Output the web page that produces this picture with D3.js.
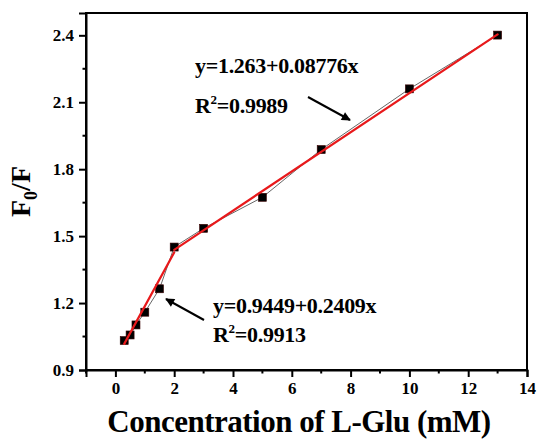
<!DOCTYPE html>
<html>
<head>
<meta charset="utf-8">
<script src="https://cdn.jsdelivr.net/npm/d3@7"></script>
<style>
  html, body { margin: 0; padding: 0; background: #fff; }
  svg { display: block; }
  text { font-family: "Times New Roman", "Liberation Serif", serif; font-weight: bold; fill: #000; }
</style>
</head>
<body>
<svg id="chart" width="537" height="443"></svg>
<script>
// L-Glu concentration (mM) and fluorescence ratio F0/F
const concentration = [0.3, 0.5, 0.7, 1.0, 1.5, 2, 3, 5, 7, 10, 13];
const ratio = [1.032, 1.057, 1.102, 1.159, 1.264, 1.451, 1.535, 1.674, 1.888, 2.160, 2.401];

// Linear fits for the two concentration ranges
const fitIntercepts = [0.9449, 1.263];
const fitSlopes = [0.2409, 0.08776];
const fitRanges = [[0.3, 2], [2, 13]];
const fitEquations = ["y=0.9449+0.2409x", "y=1.263+0.08776x"];
const fitR2 = ["0.9913", "0.9989"];

const xTicks = [0, 2, 4, 6, 8, 10, 12, 14];
const yTicks = [0.9, 1.2, 1.5, 1.8, 2.1, 2.4];

const svg = d3.select("#chart");
const plotL = 86, plotR = 527, plotT = 13, plotB = 370;

const x = d3.scaleLinear().domain([-1, 14]).range([plotL, plotR]);
const y = d3.scaleLinear().domain([0.9, 2.5]).range([plotB, plotT]);

// Frame
svg.append("rect")
  .attr("x", plotL).attr("y", plotT)
  .attr("width", plotR - plotL).attr("height", plotB - plotT)
  .attr("fill", "none").attr("stroke", "#000").attr("stroke-width", 2);

// Minor ticks
const xMinor = d3.range(-1, 14, 2);
const yMinor = d3.range(1.05, 2.5, 0.3);
svg.append("g").selectAll("line").data(xMinor).join("line")
  .attr("x1", d => x(d)).attr("x2", d => x(d))
  .attr("y1", plotB).attr("y2", plotB + 3.5)
  .attr("stroke", "#000").attr("stroke-width", 2);
svg.append("g").selectAll("line").data(yMinor).join("line")
  .attr("y1", d => y(d)).attr("y2", d => y(d))
  .attr("x1", plotL).attr("x2", plotL - 3.5)
  .attr("stroke", "#000").attr("stroke-width", 2);

// Axes
const xAxis = svg.append("g")
  .attr("transform", `translate(0,${plotB})`)
  .call(d3.axisBottom(x).tickValues(xTicks).tickSize(7).tickPadding(5).tickFormat(d3.format("d")));
const yAxis = svg.append("g")
  .attr("transform", `translate(${plotL},0)`)
  .call(d3.axisLeft(y).tickValues(yTicks).tickSize(7).tickPadding(5).tickFormat(d3.format(".1f")));
[xAxis, yAxis].forEach(g => {
  g.select(".domain").attr("stroke-width", 2);
  g.selectAll(".tick line").attr("stroke-width", 2);
  g.selectAll(".tick text")
    .style("font-family", '"Times New Roman", "Liberation Serif", serif')
    .style("font-weight", "bold").style("font-size", "17px");
});

// Connecting line through the measured points
const line = d3.line().x((d, i) => x(concentration[i])).y(d => y(d));
svg.append("path")
  .datum(ratio)
  .attr("d", line)
  .attr("fill", "none").attr("stroke", "#555").attr("stroke-width", 0.9);

// Point markers
svg.append("g").selectAll("rect").data(ratio).join("rect")
  .attr("x", (d, i) => x(concentration[i]) - 4)
  .attr("y", d => y(d) - 4)
  .attr("width", 8).attr("height", 8)
  .attr("fill", "#000").attr("stroke", "#3a0000").attr("stroke-width", 0.6);

// Fit lines
fitRanges.forEach((r, k) => {
  svg.append("line")
    .attr("x1", x(r[0])).attr("y1", y(fitIntercepts[k] + fitSlopes[k] * r[0]))
    .attr("x2", x(r[1])).attr("y2", y(fitIntercepts[k] + fitSlopes[k] * r[1]))
    .attr("stroke", "#e8191b").attr("stroke-width", 2.2).attr("stroke-linecap", "round");
});

// Arrow marker
svg.append("defs").append("marker")
  .attr("id", "arrow").attr("viewBox", "0 0 10 10")
  .attr("refX", 9).attr("refY", 5)
  .attr("markerWidth", 5).attr("markerHeight", 4.5)
  .attr("markerUnits", "strokeWidth")
  .attr("orient", "auto")
  .append("path").attr("d", "M0,0 L10,5 L0,10 z").attr("fill", "#000");

// Annotations
function equationLabel(tx, ty, eq, r2, gap) {
  const g = svg.append("g").style("font-size", "22px").style("letter-spacing", "-0.3px");
  g.append("text").attr("x", tx).attr("y", ty).text(eq);
  const t = g.append("text").attr("x", tx).attr("y", ty + gap);
  t.append("tspan").text("R");
  t.append("tspan").attr("dy", -9).style("font-size", "13px").text("2");
  t.append("tspan").attr("dy", 9).text("=" + r2);
}
equationLabel(195, 73, fitEquations[1], fitR2[1], 40);
equationLabel(213, 313, fitEquations[0], fitR2[0], 29);

svg.append("line")
  .attr("x1", 308).attr("y1", 97).attr("x2", 350).attr("y2", 120)
  .attr("stroke", "#000").attr("stroke-width", 2).attr("marker-end", "url(#arrow)");
svg.append("line")
  .attr("x1", 204).attr("y1", 320).attr("x2", 166).attr("y2", 299)
  .attr("stroke", "#000").attr("stroke-width", 2).attr("marker-end", "url(#arrow)");

// Axis titles
svg.append("text")
  .attr("x", 299).attr("y", 432)
  .attr("text-anchor", "middle").style("font-size", "31px").style("letter-spacing", "-0.5px")
  .text("Concentration of L-Glu (mM)");

const yt = svg.append("text")
  .attr("transform", `translate(30,${(plotT + plotB) / 2}) rotate(-90)`)
  .attr("text-anchor", "middle").style("font-size", "28px");
yt.append("tspan").text("F");
yt.append("tspan").attr("dy", 7).style("font-size", "18px").text("0");
yt.append("tspan").attr("dy", -7).text("/F");
</script>
</body>
</html>
